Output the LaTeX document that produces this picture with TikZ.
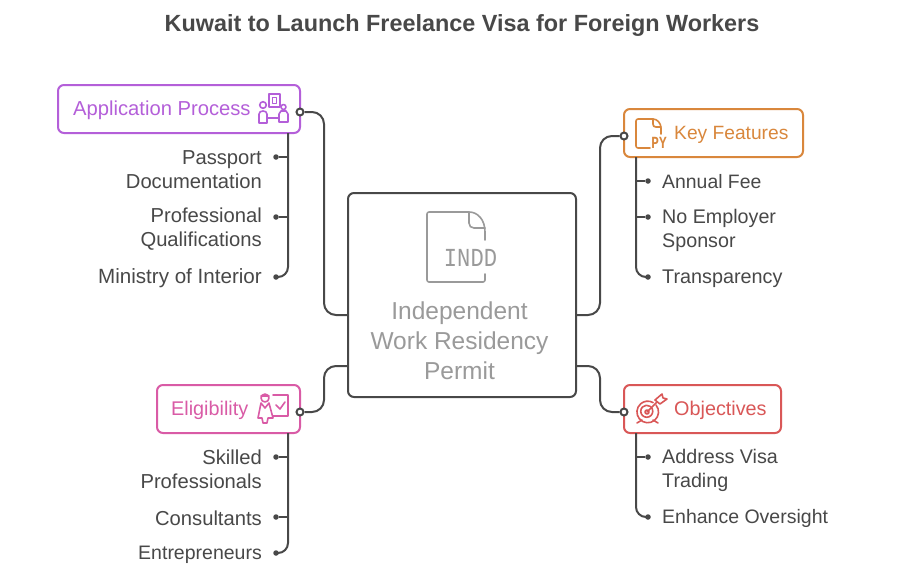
\documentclass[tikz,border=0pt]{standalone}
\usepackage{fontspec}
\setmainfont{Liberation Sans}
\newfontfamily\iconfont[FakeStretch=0.85]{Liberation Mono}
\newfontfamily\iconbold[FakeStretch=0.75]{Liberation Mono Bold}
\usetikzlibrary{calc}
\definecolor{inkdark}{HTML}{484848}
\definecolor{inkgrey}{HTML}{9A9A9A}
\definecolor{purpleapp}{HTML}{B45FD9}
\definecolor{orangekey}{HTML}{D9873C}
\definecolor{pinkelig}{HTML}{D95BA6}
\definecolor{redobj}{HTML}{D95757}
\tikzset{
  headbox/.style={draw=#1,line width=2pt,rounded corners=6pt,fill=white,inner sep=0pt},
  headtext/.style={text=#1,anchor=west,inner sep=0pt,yshift=-1.5pt,font=\fontsize{20.2}{24}\selectfont},
  link/.style={draw=inkdark,line width=2pt,rounded corners=12pt},
  spine/.style={draw=inkdark,line width=2pt,rounded corners=10pt},
  port/.style={circle,draw=inkdark,fill=white,line width=2pt,minimum size=7pt,inner sep=0pt},
  tick/.style={circle,fill=inkdark,minimum size=5.5pt,inner sep=0pt},
  leafl/.style={text=inkdark,anchor=west,align=left,inner sep=0pt,yshift=-1.5pt,font=\fontsize{20.2}{24}\selectfont},
  leafr/.style={text=inkdark,anchor=east,align=right,inner sep=0pt,yshift=-1.5pt,font=\fontsize{20.2}{24}\selectfont},
  icon/.style={draw=#1,line width=1.6pt,line join=round,line cap=round},
}
\begin{document}
\begin{tikzpicture}[x=1pt,y=-1pt]
  \useasboundingbox (0,0) rectangle (924,579);
  \fill[white] (0,0) rectangle (924,579);
  % title
  \node[text=inkdark,font=\fontsize{23.4}{28}\bfseries\selectfont] (title) at (462,25) {Kuwait to Launch Freelance Visa for Foreign Workers};
  % boxes
  \node[draw=inkdark,fill=white,line width=2pt,rounded corners=6pt,minimum width=228pt,minimum height=204pt] (centre) at (462,295) {};
  \node[headbox=purpleapp,minimum width=242pt,minimum height=48pt] (app) at (179,109) {};
  \node[headbox=orangekey,minimum width=179pt,minimum height=48pt] (key) at (713.5,133) {};
  \node[headbox=pinkelig,minimum width=143pt,minimum height=48pt] (elig) at (228.5,409) {};
  \node[headbox=redobj,minimum width=157pt,minimum height=48pt] (obj) at (702.5,409) {};
  % box labels
  \node[headtext=purpleapp] (tapp) at (73,109) {Application Process};
  \node[headtext=orangekey,font=\fontsize{19.2}{24}\selectfont] (tkey) at (674,133) {Key Features};
  \node[headtext=pinkelig,font=\fontsize{19.8}{24}\selectfont] (telig) at (171,409) {Eligibility};
  \node[headtext=redobj,font=\fontsize{19.8}{24}\selectfont] (tobj) at (674,409) {Objectives};
  \node[text=inkgrey,align=center,inner sep=0pt,font=\fontsize{24.5}{30}\selectfont] (tcentre) at (459.5,340.5) {Independent\\Work Residency\\Permit};
  % ports
  \node[port] (papp) at (300,112) {};
  \node[port] (pkey) at (624,136) {};
  \node[port] (pelig) at (300,412) {};
  \node[port] (pobj) at (624,412) {};
  \coordinate (cw1) at (348,315);
  \coordinate (cw2) at (348,366);
  \coordinate (ce1) at (576,315);
  \coordinate (ce2) at (576,366);
  % links to centre
  \draw[link] (papp.east) -- (324,112) -- (324,315) -- (cw1);
  \draw[link] (pkey.west) -- (600,136) -- (600,315) -- (ce1);
  \draw[link] (pelig.east) -- (324,412) -- (324,366) -- (cw2);
  \draw[link] (pobj.west) -- (600,412) -- (600,366) -- (ce2);
  % leaves, application
  \node[leafr] (a1) at (262,168) {Passport\\Documentation};
  \node[leafr] (a2) at (262,228) {Professional\\Qualifications};
  \node[leafr,font=\fontsize{20.6}{24}\selectfont] (a3) at (262,277) {Ministry of Interior};
  \node[tick] (da1) at (276,157) {};
  \node[tick] (da2) at (276,217) {};
  \node[tick] (da3) at (276,277) {};
  \coordinate (sa) at (288,133);
  \draw[spine] (sa) |- (da3);
  \draw[spine] (da1) -- (da1 -| sa);
  \draw[spine] (da2) -- (da2 -| sa);
  % leaves, key features
  \node[leafl,font=\fontsize{19.4}{24}\selectfont] (k1) at (662,180.5) {Annual Fee};
  \node[leafl,font=\fontsize{19.7}{24}\selectfont] (k2) at (662,228.5) {No Employer\\Sponsor};
  \node[leafl,font=\fontsize{19.8}{24}\selectfont] (k3) at (662,277) {Transparency};
  \node[tick] (dk1) at (648,181) {};
  \node[tick] (dk2) at (648,217) {};
  \node[tick] (dk3) at (648,277) {};
  \coordinate (sk) at (636,157);
  \draw[spine] (sk) |- (dk3);
  \draw[spine] (dk1) -- (dk1 -| sk);
  \draw[spine] (dk2) -- (dk2 -| sk);
  % leaves, eligibility
  \node[leafr] (e1) at (262,468) {Skilled\\Professionals};
  \node[leafr] (e2) at (262,516.5) {Consultants};
  \node[leafr,font=\fontsize{19.5}{24}\selectfont] (e3) at (262,553) {Entrepreneurs};
  \node[tick] (de1) at (276,457) {};
  \node[tick] (de2) at (276,517) {};
  \node[tick] (de3) at (276,553) {};
  \coordinate (se) at (288,433);
  \draw[spine] (se) |- (de3);
  \draw[spine] (de1) -- (de1 -| se);
  \draw[spine] (de2) -- (de2 -| se);
  % leaves, objectives
  \node[leafl,font=\fontsize{19.7}{24}\selectfont] (o1) at (662,468.5) {Address Visa\\Trading};
  \node[leafl,font=\fontsize{19.5}{24}\selectfont] (o2) at (662,517) {Enhance Oversight};
  \node[tick] (do1) at (648,457) {};
  \node[tick] (do2) at (648,517) {};
  \coordinate (so) at (636,433);
  \draw[spine] (so) |- (do2);
  \draw[spine] (do1) -- (do1 -| so);
  % centre icon
  \draw[icon=inkgrey,line width=1.6pt] (485,240) -- (485,232) .. controls (485,220) and (478,212) .. (469,212) -- (429,212) .. controls (428,212) and (427,213) .. (427,214) -- (427,280) .. controls (427,281) and (428,282) .. (429,282) -- (483,282) .. controls (484,282) and (485,281) .. (485,280) -- (485,274);
  \draw[icon=inkgrey,line width=1.6pt] (469,212) -- (469,223) .. controls (469,226) and (471,228) .. (474,228) -- (485,228);
  \node[text=inkgrey,inner sep=0pt,font=\iconfont\fontsize{26}{28}\selectfont] (tindd) at (470.5,258) {INDD};
  % application icon
  \draw[icon=purpleapp] (263,105) circle (3.3);
  \draw[icon=purpleapp] (259,123) -- (259,114) .. controls (259,112) and (261,111) .. (263,111) .. controls (265,111) and (267,112) .. (267,114) -- (267,123) -- cycle;
  \draw[icon=purpleapp] (267,118) -- (279,118);
  \draw[icon=purpleapp] (269,94) rectangle (280,107);
  \draw[icon=purpleapp] (272.5,97.5) rectangle (276.5,103.5);
  \draw[icon=purpleapp] (283.5,107) circle (2.5);
  \draw[icon=purpleapp] (279,122) -- (279,114) -- (281,111) -- (286,111) -- (288,114) -- (288,122) -- cycle;
  % key features icon
  \draw[icon=orangekey] (661,134) -- (661,128) .. controls (661,123) and (657,119) .. (653,119) -- (638,119) .. controls (637,119) and (636,120) .. (636,121) -- (636,146) .. controls (636,147) and (637,148) .. (638,148) -- (650,148);
  \draw[icon=orangekey] (653,119) -- (653,124) .. controls (653,126) and (654,127) .. (656,127) -- (661,127);
  \node[text=orangekey,inner sep=0pt,font=\iconbold\fontsize{17}{18}\selectfont] (tpy) at (659,142.5) {PY};
  % eligibility icon
  \draw[icon=pinkelig] (265,398) circle (4);
  \draw[icon=pinkelig] (261,396) -- (269,396);
  \draw[icon=pinkelig] (261,403) -- (258,418) -- (262,418) -- (263,423) -- (267,423) -- (268,418) -- (273,418) -- (269,403) -- (265,408) -- cycle;
  \draw[icon=pinkelig] (273,395) -- (288,395) -- (288,416) -- (273,416);
  \draw[icon=pinkelig] (276,405) -- (280,409) -- (285,402);
  % objectives icon
  \draw[icon=redobj] (656,405) arc (-40:300:10.8);
  \draw[icon=redobj] (651,407) arc (-45:305:6);
  \draw[icon=redobj] (647,412) circle (2);
  \draw[icon=redobj] (637,423) -- (642,420);
  \draw[icon=redobj] (658,423) -- (653,420);
  \draw[icon=redobj] (647,412) -- (657,402);
  \draw[icon=redobj] (655,400) -- (662,394) -- (663,398) -- (667,399) -- (660,404) -- cycle;
\end{tikzpicture}
\end{document}
